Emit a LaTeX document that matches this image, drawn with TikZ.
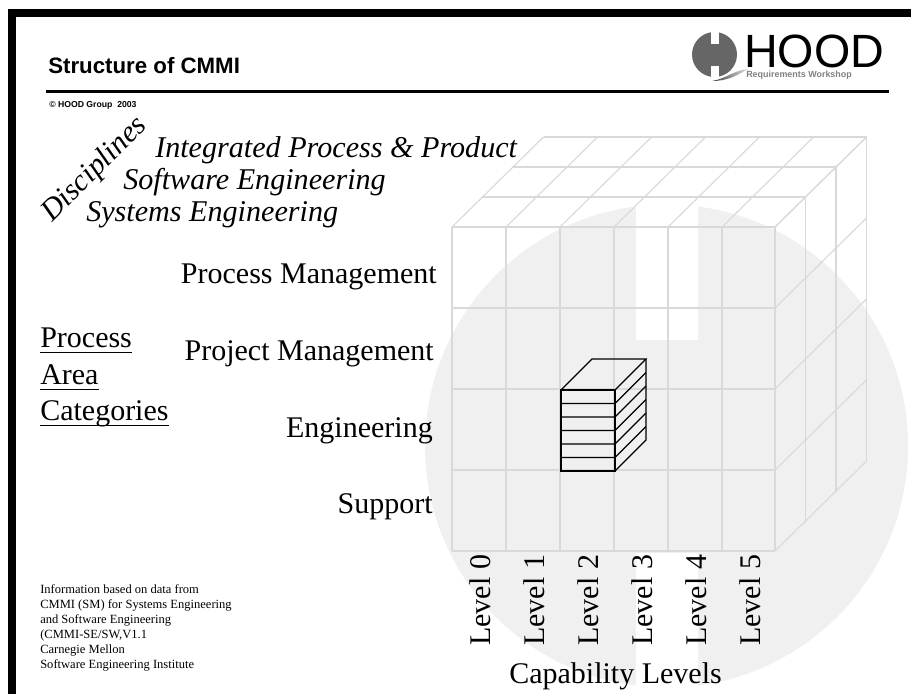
\documentclass[tikz,border=0pt]{standalone}
\usepackage{fontspec}
\setmainfont{Liberation Serif}
\newfontfamily\arialf{Liberation Sans}
\newcommand\myul[1]{\setbox0=\hbox{#1}\leavevmode\rlap{\raise-3.4pt\hbox{\vrule width\wd0 height0pt depth1.3pt}}\box0}
\definecolor{gridc}{HTML}{D9D9D9}
\definecolor{discc}{HTML}{F0F0F0}
\begin{document}
\begin{tikzpicture}[x=0.75pt,y=-0.75pt,
  big/.style={inner sep=0pt,font=\fontsize{22.5}{27}\selectfont},
  catl/.style={big,anchor=base east},
  disc/.style={big,anchor=base west,font=\fontsize{22.6}{27}\selectfont\itshape},
  lev/.style={big,anchor=base west,rotate=90},
  pac/.style={big,anchor=base west},
  note/.style={inner sep=0pt,anchor=base west,font=\fontsize{9.4}{11}\selectfont},
  gridl/.style={draw=gridc,line width=0.85pt},
  stackl/.style={draw=black,line width=0.9pt}]
\useasboundingbox (0,0) rectangle (911,694);
\fill[white] (0,0) rectangle (911,694);
% disc with the H cut out
\fill[discc] (666.5,446) circle[radius=241.5];
\fill[white] (636,190) rectangle (698,340);
\fill[white] (636,553) rectangle (698,694);
% frame
\fill[black] (8,9) rectangle (911,17);
\fill[black] (8,9) rectangle (16,694);
\fill[black] (46,90) rectangle (889,92.7);
% header
\node[inner sep=0pt,anchor=base west,font=\arialf\bfseries\fontsize{16.7}{20}\selectfont] (title) at (48,73.5) {Structure of CMMI};
\node[inner sep=0pt,anchor=base west,font=\arialf\bfseries\fontsize{6.5}{8}\selectfont] (copy) at (49,107) {© HOOD Group\ \ 2003};
% logo
\fill[black!60] (714.5,54.5) circle[radius=22.5];
\fill[white] (710.5,28) rectangle (719,44);
\fill[white] (710.5,66) rectangle (719,81);
\shade[left color=black!75,right color=black!12] (712,81) .. controls (725,79) and (735,70) .. (748,69) .. controls (738,75) and (728,81) .. (712,81) -- cycle;
\node[inner sep=0pt,anchor=base west,font=\arialf\fontsize{35}{40}\selectfont] (hood) at (744,67) {HOOD};
\node[inner sep=0pt,anchor=base west,text=black!50,font=\arialf\bfseries\fontsize{6.7}{8}\selectfont] (req) at (746,77) {Requirements Workshop};
% grid: top face
\foreach \d in {0,1,2,3} {
  \draw[gridl] ({452+30.5*\d},{227-30*\d}) -- ({775+30.5*\d},{227-30*\d});
}
% grid: front face
\foreach \x in {452,506,560,614,668,722,775} {
  \draw[gridl] (\x,227) -- (\x,551);
  \draw[gridl] (\x,227) -- ({\x+91.5},137);
}
\foreach \y in {227,308,389,470,551} {
  \draw[gridl] (452,\y) -- (775,\y);
  \draw[gridl] (775,\y) -- (866.5,{\y-90});
}
% grid: right face
\foreach \d in {1,2,3} {
  \draw[gridl] ({775+30.5*\d},{227-30*\d}) -- ({775+30.5*\d},{551-30*\d});
}
% stack
\draw[stackl] (561,390) rectangle (615,471);
\draw[stackl] (561,390) -- (592,359) -- (646,359) -- (615,390);
\draw[stackl] (646,359) -- (646,440) -- (615,471);
\foreach \i in {1,...,5} {
  \draw[stackl] (561,{390+13.5*\i}) -- (615,{390+13.5*\i}) -- (646,{359+13.5*\i});
}
% disciplines
\node[disc,rotate=45] (d0) at (52,223) {Disciplines};
\node[disc] (d1) at (155,157) {Integrated Process \& Product};
\node[disc] (d2) at (123,189) {Software Engineering};
\node[disc] (d3) at (86,221) {Systems Engineering};
% categories
\node[catl] (c1) at (437,283) {Process Management};
\node[catl] (c2) at (434,360) {Project Management};
\node[catl] (c3) at (433,437) {Engineering};
\node[catl] (c4) at (433,513) {Support};
\node[pac] (p1) at (40,347) {\myul{Process}};
\node[pac] (p2) at (40,384) {\myul{Area}};
\node[pac] (p3) at (40,420) {\myul{Categories}};
% levels
\node[lev] (l0) at (490,646) {Level 0};
\node[lev] (l1) at (544,646) {Level 1};
\node[lev] (l2) at (598,646) {Level 2};
\node[lev] (l3) at (652,646) {Level 3};
\node[lev] (l4) at (706,646) {Level 4};
\node[lev] (l5) at (760,646) {Level 5};
\node[big,anchor=base west] (cap) at (509,683) {Capability Levels};
% note
\node[note] (n1) at (40,593) {Information based on data from};
\node[note] (n2) at (40,608) {CMMI (SM) for Systems Engineering};
\node[note] (n3) at (40,623) {and Software Engineering};
\node[note] (n4) at (40,638) {(CMMI-SE/SW,V1.1};
\node[note] (n5) at (40,653) {Carnegie Mellon};
\node[note] (n6) at (40,668) {Software Engineering Institute};
\end{tikzpicture}
\end{document}
